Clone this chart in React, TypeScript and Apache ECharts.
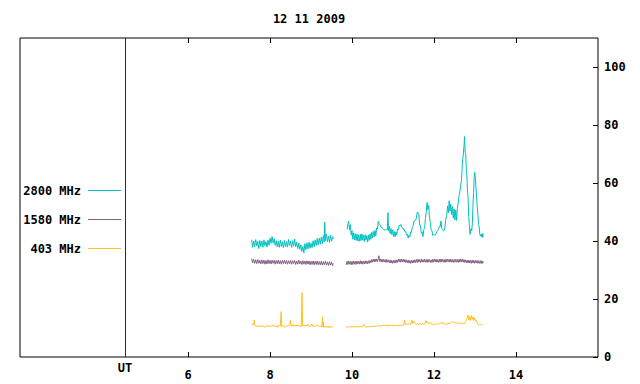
import React, { useEffect, useRef } from "react";
import * as echarts from "echarts";

const TITLE = "12 11 2009";
const UT_MARK = 4.46;
const X_TICKS = [6, 8, 10, 12, 14];
const Y_TICKS = [0, 20, 40, 60, 80, 100];
const SERIES_NAMES = ["2800 MHz", "1580 MHz", "403 MHz"];
const SERIES_COLORS = ["#00c0c0", "#806080", "#ffc020"];

const tealA: number[][] = [[7.55,40.4],[7.575,37.8],[7.60,40.0],[7.625,38.0],[7.65,40.5],[7.675,38.3],[7.70,39.9],[7.725,37.4],[7.75,40.2],[7.775,38.1],[7.80,40.0],[7.825,37.8],[7.85,40.4],[7.875,38.4],[7.90,39.8],[7.925,37.9],[7.95,40.3],[7.975,38.5],[8.00,41.0],[8.025,39.2],[8.05,41.5],[8.075,39.3],[8.10,40.8],[8.125,38.5],[8.15,40.1],[8.175,38.0],[8.20,39.9],[8.225,37.8],[8.25,40.3],[8.275,38.1],[8.30,39.7],[8.325,37.7],[8.35,40.2],[8.375,38.0],[8.40,39.8],[8.425,37.9],[8.45,40.5],[8.475,38.4],[8.50,40.0],[8.525,37.8],[8.55,40.1],[8.575,38.2],[8.60,40.7],[8.625,38.0],[8.65,39.6],[8.675,37.4],[8.70,39.3],[8.725,37.1],[8.75,38.7],[8.775,36.4],[8.80,38.1],[8.825,35.9],[8.85,39.1],[8.875,37.0],[8.90,39.4],[8.925,37.3],[8.95,39.6],[8.975,37.5],[9.00,39.2],[9.025,37.7],[9.05,40.1],[9.075,38.0],[9.10,40.3],[9.125,38.4],[9.15,40.8],[9.175,38.6],[9.20,41.0],[9.225,38.9],[9.25,41.3],[9.275,39.1],[9.30,41.9],[9.32,39.7],[9.335,46.5],[9.35,40.1],[9.375,42.4],[9.40,39.8],[9.425,41.7],[9.45,39.5],[9.475,42.0],[9.50,39.9],[9.525,41.5],[9.54,40.6]];

const tealB: number[][] = [[9.88,44.0],[9.90,46.0],[9.92,46.8],[9.94,43.8],[9.96,45.6],[9.98,42.0],[10.00,43.6],[10.02,40.6],[10.04,42.8],[10.06,40.4],[10.08,42.5],[10.10,40.2],[10.12,42.4],[10.14,40.0],[10.16,42.1],[10.18,39.9],[10.20,42.3],[10.22,40.1],[10.24,42.5],[10.26,40.3],[10.28,42.0],[10.30,39.8],[10.32,42.2],[10.34,40.3],[10.36,41.8],[10.38,39.6],[10.40,42.1],[10.42,40.2],[10.44,42.5],[10.46,40.6],[10.48,43.0],[10.50,41.0],[10.52,43.3],[10.54,41.4],[10.56,43.7],[10.58,41.8],[10.60,44.5],[10.62,44.2],[10.64,46.8],[10.66,46.0],[10.68,45.6],[10.70,44.9],[10.72,44.8],[10.74,44.4],[10.76,44.2],[10.78,43.8],[10.80,43.8],[10.82,43.9],[10.84,44.0],[10.86,43.8],[10.875,49.8],[10.89,43.4],[10.91,45.1],[10.93,42.6],[10.95,44.3],[10.97,42.2],[10.99,43.9],[11.01,41.6],[11.03,43.3],[11.05,41.4],[11.07,43.1],[11.09,42.0],[11.11,44.1],[11.13,43.8],[11.15,45.5],[11.17,45.2],[11.19,45.7],[11.21,44.8],[11.23,44.7],[11.25,44.0],[11.27,44.1],[11.29,43.2],[11.31,43.3],[11.33,42.0],[11.35,42.3],[11.37,41.0],[11.39,42.0],[11.41,41.4],[11.43,43.1],[11.45,43.0],[11.47,44.9],[11.49,45.1],[11.51,46.9],[11.53,46.9],[11.55,47.3],[11.57,47.9],[11.59,49.9],[11.61,49.9],[11.63,49.1],[11.65,45.5],[11.67,45.5],[11.69,42.7],[11.71,43.1],[11.73,41.5],[11.75,43.9],[11.77,44.3],[11.79,47.7],[11.81,49.9],[11.83,53.3],[11.85,50.8],[11.87,52.3],[11.89,48.0],[11.91,46.4],[11.93,43.8],[11.95,43.5],[11.97,41.9],[11.99,42.3],[12.01,42.1],[12.03,42.1],[12.05,42.5],[12.07,43.3],[12.09,43.7],[12.11,43.9],[12.13,45.1],[12.15,44.9],[12.17,46.9],[12.19,44.3],[12.21,43.9],[12.23,43.5],[12.25,43.7],[12.27,45.1],[12.29,47.9],[12.31,48.7],[12.33,52.1],[12.35,49.7],[12.37,53.9],[12.39,50.3],[12.41,52.7],[12.43,49.1],[12.45,51.9],[12.47,47.9],[12.49,51.1],[12.51,47.3],[12.53,50.7],[12.55,47.1],[12.57,51.3],[12.59,53.1],[12.61,55.7],[12.63,56.9],[12.65,59.3],[12.67,60.9],[12.69,66.5],[12.71,69.3],[12.73,72.5],[12.745,76.0],[12.76,70.5],[12.775,69.7],[12.79,63.5],[12.80,63.1],[12.815,57.5],[12.83,55.1],[12.845,48.5],[12.86,46.1],[12.875,42.3],[12.89,42.7],[12.905,44.3],[12.92,43.5],[12.935,46.1],[12.95,52.5],[12.965,56.7],[12.98,62.3],[12.995,63.7],[13.01,61.3],[13.025,57.9],[13.04,54.9],[13.055,51.5],[13.07,49.1],[13.085,45.7],[13.10,45.1],[13.115,42.5],[13.13,41.7],[13.145,42.3],[13.16,41.5],[13.175,42.5],[13.19,41.2],[13.2,42.6]];

const purpleA: number[][] = [[7.55,33.9],[7.575,32.5],[7.60,33.7],[7.625,32.3],[7.65,33.5],[7.675,32.2],[7.70,33.6],[7.725,32.3],[7.75,33.3],[7.775,32.1],[7.80,33.5],[7.825,32.2],[7.85,33.4],[7.875,32.0],[7.90,33.3],[7.925,32.1],[7.95,33.5],[7.975,32.2],[8.00,33.3],[8.025,32.1],[8.05,33.4],[8.075,32.3],[8.10,33.3],[8.125,32.0],[8.15,33.3],[8.175,32.2],[8.20,33.4],[8.225,32.1],[8.25,33.2],[8.275,32.0],[8.30,33.3],[8.325,32.2],[8.35,33.4],[8.375,32.1],[8.40,33.3],[8.425,32.0],[8.45,33.2],[8.475,32.1],[8.50,33.3],[8.525,32.0],[8.55,33.2],[8.575,32.2],[8.60,33.3],[8.625,31.9],[8.65,33.1],[8.675,32.0],[8.70,33.4],[8.725,32.1],[8.75,33.1],[8.775,31.9],[8.80,33.2],[8.825,32.0],[8.85,33.1],[8.875,31.9],[8.90,33.2],[8.925,32.0],[8.95,33.1],[8.975,31.8],[9.00,33.0],[9.025,31.9],[9.05,33.1],[9.075,31.8],[9.10,33.0],[9.125,31.9],[9.15,33.1],[9.175,31.8],[9.20,32.9],[9.225,31.8],[9.25,33.0],[9.275,31.7],[9.30,32.9],[9.325,31.8],[9.35,33.0],[9.375,31.7],[9.40,32.8],[9.425,31.6],[9.45,32.9],[9.475,31.7],[9.50,32.7],[9.525,31.5],[9.54,32.3]];

const purpleB: number[][] = [[9.86,31.8],[9.88,33.0],[9.90,31.9],[9.92,33.1],[9.94,32.0],[9.96,32.9],[9.98,31.8],[10.00,33.0],[10.02,31.9],[10.04,33.1],[10.06,32.0],[10.08,33.0],[10.10,31.9],[10.12,33.1],[10.14,32.1],[10.16,33.0],[10.18,32.0],[10.20,33.2],[10.22,32.1],[10.24,33.1],[10.26,32.0],[10.28,33.0],[10.30,32.1],[10.32,33.2],[10.34,32.2],[10.36,33.1],[10.38,32.1],[10.40,33.2],[10.42,32.3],[10.44,33.3],[10.46,32.5],[10.48,33.6],[10.50,32.7],[10.52,33.7],[10.54,32.8],[10.56,33.8],[10.58,32.9],[10.60,33.8],[10.62,32.9],[10.64,33.9],[10.655,34.9],[10.67,33.0],[10.69,33.8],[10.71,32.8],[10.73,33.7],[10.75,32.7],[10.77,33.7],[10.79,32.8],[10.81,33.6],[10.83,32.6],[10.85,33.6],[10.87,32.7],[10.89,33.5],[10.91,32.5],[10.93,33.4],[10.95,32.4],[10.97,33.3],[10.99,32.3],[11.01,33.3],[11.03,32.4],[11.05,33.4],[11.07,32.5],[11.09,33.5],[11.11,32.6],[11.13,33.8],[11.15,32.8],[11.17,33.7],[11.19,32.7],[11.21,33.8],[11.23,32.8],[11.25,33.7],[11.27,32.7],[11.29,33.6],[11.31,32.6],[11.33,33.5],[11.35,32.5],[11.37,33.4],[11.39,32.4],[11.41,33.3],[11.43,32.3],[11.45,33.3],[11.47,32.4],[11.49,33.4],[11.51,32.5],[11.53,33.5],[11.55,32.6],[11.57,33.6],[11.59,32.6],[11.61,33.7],[11.63,32.7],[11.65,33.6],[11.67,32.6],[11.69,33.7],[11.71,32.7],[11.73,33.6],[11.75,32.7],[11.77,33.7],[11.79,32.7],[11.81,33.6],[11.83,32.6],[11.85,33.7],[11.87,32.7],[11.89,33.6],[11.91,32.6],[11.93,33.5],[11.95,32.6],[11.97,33.7],[11.99,32.7],[12.01,33.8],[12.03,32.8],[12.05,33.7],[12.07,32.7],[12.09,33.6],[12.11,32.6],[12.13,33.7],[12.15,32.7],[12.17,33.8],[12.19,32.8],[12.21,33.7],[12.23,32.7],[12.25,33.6],[12.27,32.6],[12.29,33.7],[12.31,32.8],[12.33,33.8],[12.35,32.8],[12.37,33.7],[12.39,32.7],[12.41,33.7],[12.43,32.7],[12.45,33.6],[12.47,32.6],[12.49,33.6],[12.51,32.7],[12.53,33.7],[12.55,32.7],[12.57,33.6],[12.59,32.6],[12.61,33.7],[12.63,32.7],[12.65,33.8],[12.67,32.8],[12.69,33.7],[12.71,32.7],[12.73,33.6],[12.75,32.6],[12.77,33.5],[12.79,32.5],[12.81,33.4],[12.83,32.4],[12.85,33.4],[12.87,32.4],[12.89,33.3],[12.91,32.3],[12.93,33.4],[12.95,32.4],[12.97,33.3],[12.99,32.3],[13.01,33.3],[13.03,32.4],[13.05,33.3],[13.07,32.3],[13.09,33.2],[13.11,32.3],[13.13,33.2],[13.15,32.2],[13.17,33.2],[13.19,32.3],[13.2,32.9]];

const yellowA: number[][] = [[7.56,11.4],[7.58,11.0],[7.60,11.2],[7.615,12.8],[7.63,10.8],[7.65,10.6],[7.70,10.7],[7.75,10.6],[7.80,10.7],[7.85,10.5],[7.88,10.2],[7.90,10.6],[7.95,10.7],[8.00,10.6],[8.05,10.7],[8.08,11.1],[8.10,10.6],[8.15,10.7],[8.18,10.2],[8.20,11.0],[8.22,10.6],[8.25,10.7],[8.27,15.6],[8.285,10.7],[8.32,10.6],[8.35,10.7],[8.37,10.2],[8.40,10.6],[8.45,10.7],[8.48,11.2],[8.495,12.8],[8.51,11.0],[8.53,10.6],[8.56,11.3],[8.58,10.7],[8.61,11.0],[8.63,10.6],[8.66,11.1],[8.68,10.7],[8.70,11.0],[8.73,10.6],[8.76,10.5],[8.78,22.2],[8.795,10.6],[8.82,11.0],[8.85,10.7],[8.88,11.0],[8.90,10.7],[8.93,11.3],[8.95,10.6],[9.00,10.7],[9.02,11.4],[9.04,10.6],[9.08,10.7],[9.12,10.6],[9.15,11.1],[9.18,10.6],[9.22,10.7],[9.26,10.5],[9.28,13.9],[9.29,10.4],[9.30,12.0],[9.31,10.3],[9.33,10.6],[9.35,10.2],[9.37,10.6],[9.39,10.2],[9.41,10.6],[9.43,10.1],[9.45,10.6],[9.47,10.2],[9.49,10.6],[9.51,10.2],[9.53,10.5]];

const yellowB: number[][] = [[9.85,10.5],[9.88,10.2],[9.92,10.5],[9.96,10.3],[10.00,10.5],[10.05,10.3],[10.10,10.5],[10.15,10.4],[10.20,10.5],[10.25,10.4],[10.29,11.2],[10.31,10.5],[10.36,10.3],[10.40,10.5],[10.45,10.4],[10.50,10.6],[10.55,10.5],[10.60,10.6],[10.63,11.0],[10.66,10.6],[10.70,10.7],[10.75,10.9],[10.80,10.9],[10.85,11.0],[10.88,10.6],[10.91,11.2],[10.94,10.7],[10.97,11.0],[11.00,10.8],[11.03,11.0],[11.06,10.9],[11.09,10.7],[11.12,11.0],[11.15,10.7],[11.18,11.0],[11.22,10.8],[11.26,11.1],[11.28,12.8],[11.30,11.0],[11.33,11.5],[11.36,11.2],[11.40,11.6],[11.43,11.2],[11.46,12.8],[11.48,11.6],[11.51,12.4],[11.54,11.6],[11.57,11.2],[11.60,11.5],[11.63,11.2],[11.66,11.6],[11.69,11.3],[11.72,11.6],[11.75,11.2],[11.78,11.6],[11.80,12.6],[11.82,11.8],[11.84,12.2],[11.87,11.5],[11.90,11.9],[11.93,11.4],[11.96,11.3],[11.99,11.0],[12.02,11.1],[12.05,11.5],[12.08,11.2],[12.11,11.6],[12.14,11.4],[12.17,11.8],[12.19,12.0],[12.22,11.4],[12.25,11.6],[12.28,11.1],[12.31,11.6],[12.34,11.3],[12.37,11.8],[12.40,11.6],[12.43,12.0],[12.46,12.3],[12.49,11.8],[12.52,12.0],[12.55,11.6],[12.58,11.9],[12.61,11.5],[12.64,11.8],[12.67,11.4],[12.70,11.6],[12.73,11.4],[12.76,12.0],[12.79,12.6],[12.81,13.6],[12.83,14.5],[12.85,12.8],[12.87,13.9],[12.89,12.6],[12.91,14.3],[12.93,13.0],[12.95,13.8],[12.97,12.6],[12.99,13.6],[13.01,12.4],[13.03,12.6],[13.05,11.8],[13.07,11.4],[13.09,11.0],[13.11,11.2],[13.13,10.9],[13.15,11.2],[13.17,11.0],[13.19,11.3]];

const GAP_X = 9.7;

const FONT = "'DejaVu Sans Mono', monospace";

function joinSegments(a: number[][], b: number[][]) {
  return [...a, [GAP_X, "-"], ...b];
}

export default function App() {
  const ref = useRef<HTMLDivElement>(null);
  useEffect(() => {
    if (!ref.current) return;
    const chart = echarts.init(ref.current, undefined, { renderer: "svg" });
    const segs = [
      joinSegments(tealA, tealB),
      joinSegments(purpleA, purpleB),
      joinSegments(yellowA, yellowB),
    ];
    const textStyle = { fontFamily: FONT, fontSize: 12, fontWeight: "bold" as const, color: "#000" };
    const legendY = [190, 219, 248];
    const graphic: any[] = [
      {
        type: "text",
        x: 309,
        y: 19,
        style: { text: TITLE, font: `bold 12px ${FONT}`, fill: "#000", align: "center", verticalAlign: "middle" },
      },
    ];
    SERIES_NAMES.forEach((name, i) => {
      graphic.push({
        type: "text",
        x: 81,
        y: legendY[i] + 1,
        style: { text: name, font: `bold 12px ${FONT}`, fill: "#000", align: "right", verticalAlign: "middle" },
      });
      graphic.push({
        type: "line",
        shape: { x1: 88, y1: legendY[i] + 0.5, x2: 121, y2: legendY[i] + 0.5 },
        style: { stroke: SERIES_COLORS[i], lineWidth: 1 },
      });
    });
    const tickStyle = { lineStyle: { color: "#000", width: 1 } };
    chart.setOption({
      animation: false,
      backgroundColor: "#fff",
      grid: { left: 20, right: 42, top: 38, bottom: 27, show: true, borderColor: "#000", borderWidth: 1 },
      xAxis: [
        {
          type: "value",
          min: 1.9,
          max: 16,
          position: "bottom",
          axisLine: { show: false },
          splitLine: { show: false },
          axisTick: { show: true, inside: true, length: 5, customValues: X_TICKS, ...tickStyle },
          axisLabel: { customValues: X_TICKS, margin: 12, ...textStyle },
        },
        {
          type: "value",
          min: 1.9,
          max: 16,
          position: "top",
          axisLine: { show: false },
          splitLine: { show: false },
          axisTick: { show: true, inside: true, length: 5, customValues: X_TICKS, ...tickStyle },
          axisLabel: { show: false },
        },
      ],
      yAxis: [
        {
          type: "value",
          min: 0,
          max: 110,
          position: "right",
          axisLine: { show: false },
          splitLine: { show: false },
          axisTick: { show: true, inside: true, length: 5, customValues: Y_TICKS, ...tickStyle },
          axisLabel: { customValues: Y_TICKS, margin: 6, align: "left", ...textStyle },
        },
      ],
      graphic,
      series: SERIES_NAMES.map((name, i) => ({
        name,
        type: "line",
        data: segs[i],
        showSymbol: false,
        symbol: "none",
        connectNulls: false,
        lineStyle: { color: SERIES_COLORS[i], width: 1 },
        itemStyle: { color: SERIES_COLORS[i] },
        z: 3 - i,
        ...(i === 0
          ? {
              markLine: {
                silent: true,
                symbol: "none",
                lineStyle: { color: "#900000", width: 1, type: "solid" },
                label: { show: true, position: "start", formatter: "UT", distance: 5, ...textStyle },
                data: [{ xAxis: UT_MARK }],
              },
            }
          : {}),
      })),
    });
    return () => chart.dispose();
  }, []);
  return (
    <div
      ref={ref}
      style={{ position: "fixed", left: 0, top: 0, width: 640, height: 384 }}
    />
  );
}
